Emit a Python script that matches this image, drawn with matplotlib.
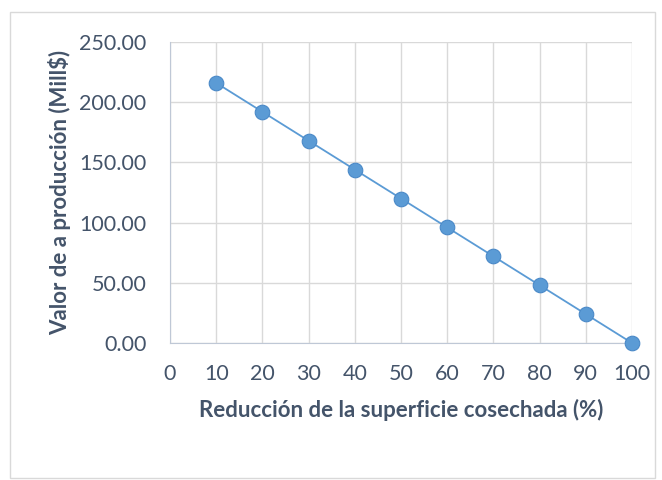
import numpy as np
import matplotlib.pyplot as plt
from matplotlib.patches import Rectangle

# Datos
reduccion = [10, 20, 30, 40, 50, 60, 70, 80, 90, 100]
valor = [216, 192, 168, 144, 120, 96, 72, 48, 24, 0]
xticks = [0, 10, 20, 30, 40, 50, 60, 70, 80, 90, 100]
yticks = [0, 50, 100, 150, 200, 250]

texto = '#44546A'
plt.rcParams['font.family'] = ['Lato', 'DejaVu Sans']

fig = plt.figure(figsize=(6.62, 4.80), dpi=100)
fig.patches.append(Rectangle((10 / 662, 1 - 478 / 480), 645 / 662, 466 / 480,
                             transform=fig.transFigure, fill=False,
                             edgecolor='#D9D9D9', linewidth=1))

ax = fig.add_axes([170 / 662, 1 - 343 / 480, 462 / 662, 301 / 480])
ax.plot(reduccion, valor, color='#5B9BD5', linewidth=1.3, marker='o',
        markersize=10.5, markerfacecolor='#5B9BD5', markeredgecolor='#4A89C8',
        markeredgewidth=0.8, zorder=3, clip_on=False)

ax.set_xlim(0, 100)
ax.set_ylim(0, 250)
ax.set_xticks(xticks)
ax.set_yticks(yticks)
ax.set_yticklabels([f'{v:.2f}' for v in yticks])
ax.grid(True, color='#D9D9D9', linewidth=1)
ax.set_axisbelow(True)
for s in ['top', 'right']:
    ax.spines[s].set_visible(False)
for s in ['left', 'bottom']:
    ax.spines[s].set_color('#BFC8D6')
ax.tick_params(length=0, labelsize=15.5, colors=texto)
ax.tick_params(axis='x', pad=15)
ax.tick_params(axis='y', pad=17)

ax.set_xlabel('Reducción de la superficie cosechada (%)', fontsize=16,
              fontweight='bold', color=texto, labelpad=11)
ax.set_ylabel('Valor de a producción (Mill$)', fontsize=16,
              fontweight='bold', color=texto, labelpad=6)

plt.savefig('out.png', dpi=100)
